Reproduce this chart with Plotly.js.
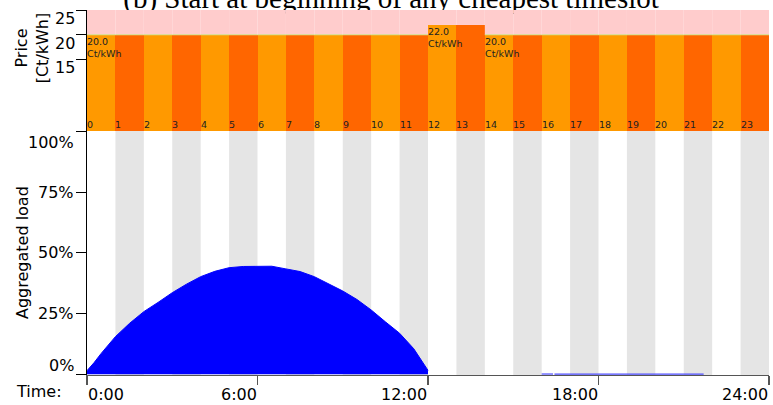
<!DOCTYPE html>
<html>
<head>
<meta charset="utf-8">
<script src="https://cdn.plot.ly/plotly-3.0.1.min.js"></script>
<style>html,body{margin:0;padding:0;background:#fff;}#chart{width:773px;height:405px;}</style>
</head>
<body>
<div id="chart"></div>
<script>
// ---- data ----
const hours = [0,1,2,3,4,5,6,7,8,9,10,11,12,13,14,15,16,17,18,19,20,21,22,23];
const prices = [20,20,20,20,20,20,20,20,20,20,20,20,22,22,20,20,20,20,20,20,20,20,20,20];
const priceLimit = 20;
const priceTicks = [15,20,25];
const priceTickLabels = ['15','20','25'];
const loadHours = [0,0.25,0.5,0.75,1,1.5,2,2.5,3,3.5,4,4.5,5,5.5,6,6.5,7,7.5,8,8.5,9,9.5,10,10.5,11,11.5,12];
const loadValues = [1.5,4.8,8.6,12.2,15.5,21,25.8,29.6,33.6,37.1,40.2,42.4,43.9,44.4,44.5,44.5,43.4,42.3,40.2,37.2,34.3,30.8,26.5,21.6,16.9,10.5,1.6];
const lowHours = [16.0,16.4,16.42,16.45,21.7];
const lowValues = [0.1,0.1,null,0.1,0.1];
const loadTicks = [0,25,50,75,100];
const loadTickLabels = ['0%','25%','50%','75%','100%'];
const timeTicks = [0,6,12,18,24];
const timeTickLabels = ['0:00','6:00','12:00','18:00','24:00'];
const titleText = '(b) Start at beginning of any cheapest timeslot';

// ---- layout constants ----
const FONT = 'DejaVu Sans';
const splitY = 0.6685;
const priceTop = 25.05;

const traces = [
  {
    type: 'bar', x: hours.map(h => h + 0.5), y: prices, width: 1,
    marker: {color: hours.map(h => h % 2 === 0 ? '#FF9900' : '#FF6600'), line: {width: 0}},
    xaxis: 'x', yaxis: 'y', hoverinfo: 'skip', showlegend: false
  },
  {
    // chart title, drawn as text so the panel above can cover its descenders like the original
    type: 'scatter', mode: 'text', x: [10.7], y: [24.08], text: [titleText],
    textposition: 'top center', cliponaxis: false,
    textfont: {family: 'Liberation Serif', size: 29, color: '#000'},
    xaxis: 'x', yaxis: 'y', hoverinfo: 'skip', showlegend: false
  },
  {
    type: 'scatter', mode: 'lines', x: loadHours, y: loadValues, fill: 'tozeroy',
    fillcolor: '#0000FF', line: {color: '#0000FF', width: 1},
    xaxis: 'x2', yaxis: 'y2', hoverinfo: 'skip', showlegend: false
  },
  {
    type: 'scatter', mode: 'lines', x: lowHours, y: lowValues,
    line: {color: '#4d4dff', width: 1.2}, connectgaps: false,
    xaxis: 'x2', yaxis: 'y2', hoverinfo: 'skip', showlegend: false
  }
];

const shapes = [];
// pink region above price limit / above bars, per hour
hours.forEach((h, i) => {
  shapes.push({type: 'rect', xref: 'x', yref: 'y', x0: h, x1: h + 1,
    y0: Math.max(priceLimit, prices[i]), y1: priceTop + 0.3,
    fillcolor: '#FFCCCC', line: {width: 0}, layer: 'above'});
  if (prices[i] <= priceLimit) {
    shapes.push({type: 'line', xref: 'x', yref: 'y', x0: h, x1: h + 1, y0: priceLimit, y1: priceLimit,
      line: {color: '#d2df80', width: 1}, layer: 'above'});
  }
});
// gray stripes for odd hours in load panel
hours.forEach(h => {
  if (h % 2 === 1) {
    shapes.push({type: 'rect', xref: 'x2', yref: 'y2', x0: h, x1: h + 1, y0: -0.3, y1: 100.2,
      fillcolor: '#E5E5E5', line: {width: 0}, layer: 'below'});
  }
});

const annotations = [];
// price labels on bars where price changes, hour numbers at bar bottoms
hours.forEach((h, i) => {
  if (i === 0 || prices[i] !== prices[i - 1]) {
    annotations.push({text: prices[i].toFixed(1) + '<br>Ct/kWh', xref: 'x', yref: 'y', x: h, y: prices[i],
      xanchor: 'left', yanchor: 'top', align: 'left', showarrow: false, borderpad: 0, xshift: -1,
      font: {family: FONT, size: 9.5, color: '#222'}});
  }
  annotations.push({text: String(h), xref: 'x', yref: 'paper', x: h, y: splitY,
    xanchor: 'left', yanchor: 'bottom', showarrow: false, borderpad: 0, xshift: -1,
    font: {family: FONT, size: 9.5, color: '#222'}});
});
// price tick labels (hang below ticks)
priceTicks.forEach((v, i) => {
  annotations.push({text: priceTickLabels[i], xref: 'paper', yref: 'y', x: 0, y: v,
    xanchor: 'right', yanchor: 'top', showarrow: false, borderpad: 0, xshift: -11, yshift: 2,
    font: {family: FONT, size: 16, color: '#000'}});
});
// load tick labels
loadTicks.forEach((v, i) => {
  let ys = 0;
  if (v === 100) ys = -11;
  if (v === 0) ys = 9;
  annotations.push({text: loadTickLabels[i], xref: 'paper', yref: 'y2', x: 0, y: v,
    xanchor: 'right', yanchor: 'middle', showarrow: false, borderpad: 0, xshift: -12, yshift: ys,
    font: {family: FONT, size: 16, color: '#000'}});
});
// time tick labels
timeTicks.forEach((v, i) => {
  annotations.push({text: timeTickLabels[i], xref: 'x2', yref: 'paper', x: v, y: -0.0493,
    xanchor: v === 0 ? 'left' : 'right', yanchor: 'middle', showarrow: false, borderpad: 0, yshift: -2,
    font: {family: FONT, size: 16, color: '#000'}});
});
// axis titles
annotations.push({text: 'Price<br>[Ct/kWh]', xref: 'paper', yref: 'paper', x: -0.0802, y: 0.8959,
  xanchor: 'center', yanchor: 'middle', textangle: -90, showarrow: false, borderpad: 0,
  font: {family: FONT, size: 16, color: '#000'}});
annotations.push({text: 'Aggregated load', xref: 'paper', yref: 'paper', x: -0.0953, y: 0.3342,
  xanchor: 'center', yanchor: 'middle', textangle: -90, showarrow: false, borderpad: 0,
  font: {family: FONT, size: 16, color: '#000'}});
annotations.push({text: 'Time:', xref: 'paper', yref: 'paper', x: -0.1056, y: -0.0458,
  xanchor: 'left', yanchor: 'middle', showarrow: false, borderpad: 0,
  font: {family: FONT, size: 16, color: '#000'}});

const layout = {
  width: 773, height: 405,
  margin: {l: 87, r: 4, t: 10, b: 30},
  paper_bgcolor: '#fff', plot_bgcolor: 'rgba(0,0,0,0)',
  showlegend: false, bargap: 0,
  font: {family: FONT, size: 16, color: '#000'},
  xaxis: {domain: [0, 1], range: [0, 24], anchor: 'y', showticklabels: false, showgrid: false,
    zeroline: false, ticks: '', showline: false, fixedrange: true},
  yaxis: {domain: [splitY, 1], range: [0.4, priceTop], tickvals: priceTicks, ticks: 'outside', ticklen: 10,
    tickcolor: '#000', tickwidth: 1, showticklabels: false, showline: true, linecolor: '#000', linewidth: 1,
    showgrid: false, zeroline: false, fixedrange: true},
  xaxis2: {domain: [0, 1], range: [0, 24], anchor: 'y2', tickvals: timeTicks, ticks: 'outside', ticklen: 9,
    tickcolor: '#555', tickwidth: 1.2, showticklabels: false, showline: true, linecolor: '#555', linewidth: 1.2,
    showgrid: false, zeroline: false, fixedrange: true},
  yaxis2: {domain: [0, splitY], range: [-0.3, 100.2], anchor: 'x2', tickvals: loadTicks, ticks: 'outside', ticklen: 10,
    tickcolor: '#000', tickwidth: 1, showticklabels: false, showline: true, linecolor: '#000', linewidth: 1,
    showgrid: false, zeroline: false, fixedrange: true},
  shapes: shapes,
  annotations: annotations
};

Plotly.newPlot('chart', traces, layout, {displayModeBar: false, staticPlot: true});
</script>
</body>
</html>
